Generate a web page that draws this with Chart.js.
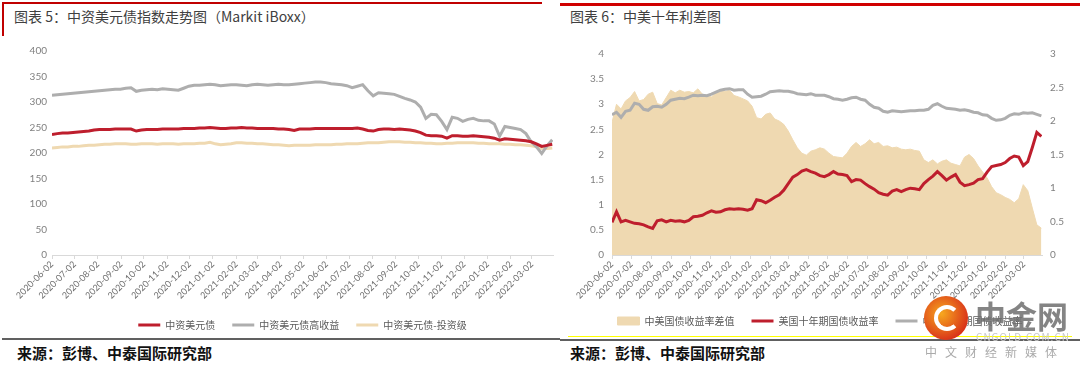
<!DOCTYPE html>
<html>
<head>
<meta charset="utf-8">
<script src="https://cdn.jsdelivr.net/npm/chart.js@4.4.0/dist/chart.umd.min.js"></script>
<style>
  body { margin: 0; width: 1080px; height: 368px; background: #fff; position: relative; overflow: hidden; font-family: "Noto Sans CJK SC", sans-serif; }
  .abs { position: absolute; }
  .title { font-size: 14px; line-height: 20px; color: #404040; top: 6px; white-space: nowrap; }
  .src { font-size: 15px; line-height: 20px; font-weight: 700; color: #111; top: 343px; white-space: nowrap; }
  #wrap1 { left: 0; top: 40px; width: 560px; height: 300px; }
  #wrap2 { left: 560px; top: 40px; width: 520px; height: 296px; }
</style>
</head>
<body>

<!-- headers -->
<div class="abs" style="left:2px;top:2px;width:540px;height:2px;background:#c00000"></div>
<div class="abs" style="left:2px;top:2px;width:2px;height:34px;background:#c00000"></div>
<div class="abs title" style="left:14px">图表 5：中资美元债指数走势图（Markit iBoxx）</div>
<div class="abs" style="left:560px;top:3px;width:520px;height:3px;background:#d00000"></div>
<div class="abs title" style="left:570px">图表 6：中美十年利差图</div>

<div class="abs" id="wrap1"><canvas id="chart1" width="560" height="300"></canvas></div>
<div class="abs" id="wrap2"><canvas id="chart2" width="520" height="296"></canvas></div>

<!-- footers -->
<div class="abs" style="left:2px;top:338px;width:558px;height:2px;background:#606060"></div>
<div class="abs" style="left:568px;top:336px;width:504px;height:1px;background:#ffff00"></div>
<div class="abs" style="left:560px;top:339px;width:520px;height:2px;background:#606060"></div>
<div class="abs src" style="left:17px">来源：彭博、中泰国际研究部</div>
<div class="abs src" style="left:570px">来源：彭博、中泰国际研究部</div>

<!-- watermark -->
<div class="abs" style="left:924px;top:296px;width:44px;height:44px;border-radius:50%;background:radial-gradient(circle at 40% 40%, #f7a81e, #d8301a 75%);z-index:5"></div>
<div class="abs" style="left:934px;top:305px;width:18px;height:18px;border-radius:50%;border:4px solid #fff;border-right-color:transparent;z-index:6"></div>
<div class="abs" style="left:975px;top:292px;font-size:31px;font-weight:700;color:rgba(110,110,110,0.85);z-index:5">中金网</div>
<div class="abs" style="left:976px;top:329px;font-size:10px;color:#c8c8c8;letter-spacing:1px;z-index:5">CNGOLD.COM.CN</div>
<div class="abs" style="left:925px;top:343px;font-size:12px;color:#aaa;letter-spacing:8px;z-index:5">中文财经新媒体</div>

<script>
// x axis tick labels (monthly)
const monthLabels = ['2020-06-02', '2020-07-02', '2020-08-02', '2020-09-02', '2020-10-02', '2020-11-02',
  '2020-12-02', '2021-01-02', '2021-02-02', '2021-03-02', '2021-04-02', '2021-05-02', '2021-06-02',
  '2021-07-02', '2021-08-02', '2021-09-02', '2021-10-02', '2021-11-02', '2021-12-02', '2022-01-02',
  '2022-02-02', '2022-03-02'];
const startDate = '2020-06-02';
const lastDay = 666;

// weekly samples, days since startDate
const sampleDays = Array.from({ length: 96 }, (_, i) => i * 7);

// 图表5
const usdIndex = [236, 238, 239, 239, 240, 241, 242, 243, 245, 246,
  246, 246, 247, 247, 247, 247, 243, 245, 246, 246,
  246, 247, 247, 247, 247, 248, 248, 248, 249, 249,
  250, 249, 248, 248, 249, 249, 250, 249, 249, 248,
  248, 248, 248, 247, 247, 246, 244, 247, 247, 247,
  248, 248, 248, 248, 248, 248, 248, 248, 249, 247,
  244, 243, 246, 247, 247, 246, 247, 246, 245, 243,
  240, 235, 234, 234, 233, 229, 234, 234, 233, 233,
  234, 233, 232, 231, 229, 225, 228, 227, 226, 225,
  224, 222, 218, 213, 215, 217];
const usdHighYield = [313, 314, 315, 316, 317, 318, 319, 320, 321, 322,
  323, 324, 325, 325, 327, 328, 321, 323, 324, 325,
  324, 326, 325, 324, 323, 327, 331, 333, 333, 334,
  335, 334, 332, 333, 334, 334, 333, 332, 334, 335,
  334, 333, 334, 335, 334, 334, 335, 336, 337, 338,
  339, 339, 338, 336, 335, 334, 332, 328, 331, 334,
  322, 312, 318, 317, 316, 315, 311, 307, 304, 300,
  290, 268, 276, 275, 262, 246, 270, 268, 262, 266,
  268, 264, 263, 263, 257, 233, 252, 250, 248, 246,
  238, 222, 212, 199, 214, 226];
const usdInvGrade = [210, 211, 212, 212, 213, 213, 214, 215, 215, 216,
  217, 217, 218, 218, 218, 217, 217, 218, 218, 218,
  217, 218, 218, 218, 217, 218, 218, 218, 219, 219,
  221, 218, 216, 217, 218, 220, 220, 219, 219, 218,
  218, 217, 216, 216, 215, 214, 215, 215, 215, 215,
  216, 216, 216, 216, 217, 217, 218, 218, 218, 219,
  220, 220, 220, 221, 222, 222, 222, 221, 221, 220,
  220, 219, 219, 218, 218, 219, 219, 220, 220, 220,
  220, 219, 219, 218, 218, 218, 217, 217, 216, 216,
  215, 214, 212, 209, 209, 210];

// 图表6
const cnUsSpread = [1.98, 2.25, 2.18, 2.30, 2.35, 2.44, 2.30, 2.32, 2.40, 2.43,
  2.26, 2.24, 2.35, 2.46, 2.42, 2.46, 2.43, 2.44, 2.42, 2.48,
  2.40, 2.38, 2.36, 2.42, 2.46, 2.44, 2.46, 2.38, 2.36, 2.33,
  2.30, 2.22, 2.05, 2.03, 2.10, 2.12, 2.03, 2.00, 1.95, 1.85,
  1.72, 1.60, 1.52, 1.49, 1.55, 1.57, 1.60, 1.58, 1.52, 1.47,
  1.46, 1.45, 1.52, 1.62, 1.68, 1.62, 1.66, 1.72, 1.66, 1.68,
  1.62, 1.63, 1.60, 1.61, 1.58, 1.57, 1.58, 1.56, 1.55, 1.42,
  1.38, 1.42, 1.36, 1.40, 1.42, 1.37, 1.35, 1.33, 1.46, 1.50,
  1.44, 1.33, 1.24, 1.15, 1.02, 0.93, 0.90, 0.86, 0.83, 0.78,
  0.84, 1.05, 0.96, 0.70, 0.45, 0.40];
const us10y = [0.65, 0.86, 0.66, 0.69, 0.66, 0.63, 0.62, 0.60, 0.56, 0.53,
  0.68, 0.70, 0.66, 0.69, 0.67, 0.68, 0.66, 0.69, 0.76, 0.77,
  0.79, 0.84, 0.88, 0.85, 0.86, 0.90, 0.92, 0.91, 0.92, 0.91,
  0.89, 0.92, 1.10, 1.08, 1.04, 1.09, 1.15, 1.20, 1.29, 1.42,
  1.55, 1.60, 1.67, 1.70, 1.66, 1.63, 1.58, 1.56, 1.60, 1.66,
  1.61, 1.60, 1.58, 1.46, 1.50, 1.49, 1.42, 1.36, 1.31, 1.24,
  1.21, 1.19, 1.27, 1.30, 1.26, 1.30, 1.33, 1.32, 1.30, 1.42,
  1.50, 1.57, 1.66, 1.58, 1.49, 1.55, 1.60, 1.45, 1.38, 1.40,
  1.43, 1.50, 1.52, 1.65, 1.76, 1.78, 1.80, 1.84, 1.92, 1.97,
  1.95, 1.78, 1.86, 2.14, 2.44, 2.36];
const cn10y = [2.79, 2.84, 2.74, 2.86, 2.88, 3.02, 3.00, 2.90, 2.88, 2.95,
  2.96, 2.94, 3.00, 3.08, 3.10, 3.12, 3.11, 3.14, 3.18, 3.17,
  3.18, 3.17, 3.20, 3.24, 3.28, 3.30, 3.31, 3.28, 3.29, 3.29,
  3.20, 3.14, 3.15, 3.16, 3.20, 3.25, 3.26, 3.27, 3.26, 3.26,
  3.24, 3.21, 3.20, 3.19, 3.21, 3.18, 3.18, 3.18, 3.15, 3.11,
  3.10, 3.08, 3.10, 3.13, 3.14, 3.10, 3.08, 3.00, 2.94, 2.92,
  2.86, 2.84, 2.87, 2.86, 2.85, 2.86, 2.87, 2.87, 2.88, 2.88,
  2.90, 2.98, 3.01, 2.96, 2.92, 2.91, 2.90, 2.88, 2.89, 2.87,
  2.84, 2.83, 2.79, 2.78, 2.72, 2.68, 2.69, 2.72, 2.78, 2.81,
  2.80, 2.83, 2.82, 2.83, 2.80, 2.77];

const RED = '#be1e2d';
const GREY = '#aeaeae';
const TAN = '#efd9b1';
const NUM_FONT = 'Lato, "Liberation Sans", sans-serif';
const CJK_FONT = '"Noto Sans CJK SC", sans-serif';

const dayMs = 86400000;
const monthTicks = monthLabels.map(l => (Date.parse(l) - Date.parse(startDate)) / dayMs);
const toPoints = vals => vals.map((v, i) => ({ x: sampleDays[i], y: v }));

function xAxis(height) {
  return {
    type: 'linear',
    min: 0,
    max: lastDay,
    afterBuildTicks: s => { s.ticks = monthTicks.map(v => ({ value: v })); },
    afterFit: s => { s.height = height; },
    ticks: {
      autoSkip: false,
      minRotation: 45,
      maxRotation: 45,
      padding: 0,
      color: '#6e6e6e',
      font: { size: 9, family: NUM_FONT },
      callback: (v, i) => monthLabels[i]
    },
    grid: { drawOnChartArea: false, drawTicks: true, tickLength: 4, color: '#d9d9d9' },
    border: { color: '#d9d9d9' }
  };
}

function yAxis(pos, max, step, width, pad) {
  return {
    position: pos,
    min: 0,
    max: max,
    afterFit: s => { s.width = width; },
    ticks: {
      stepSize: step,
      padding: pad,
      color: '#808080',
      font: { size: 10, family: NUM_FONT },
      callback: v => String(v)
    },
    grid: { display: false, drawTicks: false },
    border: { display: false }
  };
}

function legendOpts(fullSize) {
  return {
    position: 'bottom',
    fullSize: fullSize,
    labels: {
      usePointStyle: true,
      pointStyleWidth: 22,
      boxHeight: 8,
      padding: 17,
      color: '#595959',
      font: { size: 10, family: CJK_FONT },
      sort: (a, b) => a.datasetIndex - b.datasetIndex
    }
  };
}

function lineSet(label, vals, color, extra) {
  return Object.assign({
    label: label,
    data: toPoints(vals),
    borderColor: color,
    backgroundColor: color,
    borderWidth: 3,
    pointRadius: 0,
    pointStyle: 'line',
    tension: 0,
    fill: false
  }, extra || {});
}

new Chart(document.getElementById('chart1'), {
  type: 'line',
  data: {
    datasets: [
      lineSet('中资美元债', usdIndex, RED),
      lineSet('中资美元债高收益', usdHighYield, GREY),
      lineSet('中资美元债-投资级', usdInvGrade, TAN)
    ]
  },
  options: {
    responsive: false,
    animation: false,
    devicePixelRatio: 1,
    layout: { padding: { top: 11, right: 7, left: 0, bottom: 0 } },
    scales: {
      x: xAxis(48),
      y: yAxis('left', 400, 50, 52, 5)
    },
    plugins: { legend: legendOpts(false), tooltip: { enabled: false } }
  }
});

new Chart(document.getElementById('chart2'), {
  type: 'line',
  data: {
    datasets: [
      lineSet('中美国债收益率差值', cnUsSpread, TAN, {
        yAxisID: 'y1', fill: 'origin', borderWidth: 1, pointStyle: 'rect', order: 2
      }),
      lineSet('美国十年期国债收益率', us10y, RED, { yAxisID: 'y' }),
      lineSet('中国十年期国债收益率', cn10y, GREY, { yAxisID: 'y' })
    ]
  },
  options: {
    responsive: false,
    animation: false,
    devicePixelRatio: 1,
    layout: { padding: { top: 13, right: 0, left: 0, bottom: 0 } },
    scales: {
      x: xAxis(44),
      y: yAxis('left', 4, 0.5, 52, 8),
      y1: yAxis('right', 3, 0.5, 38, 8)
    },
    plugins: { legend: legendOpts(true), tooltip: { enabled: false } }
  }
});
</script>
</body>
</html>
